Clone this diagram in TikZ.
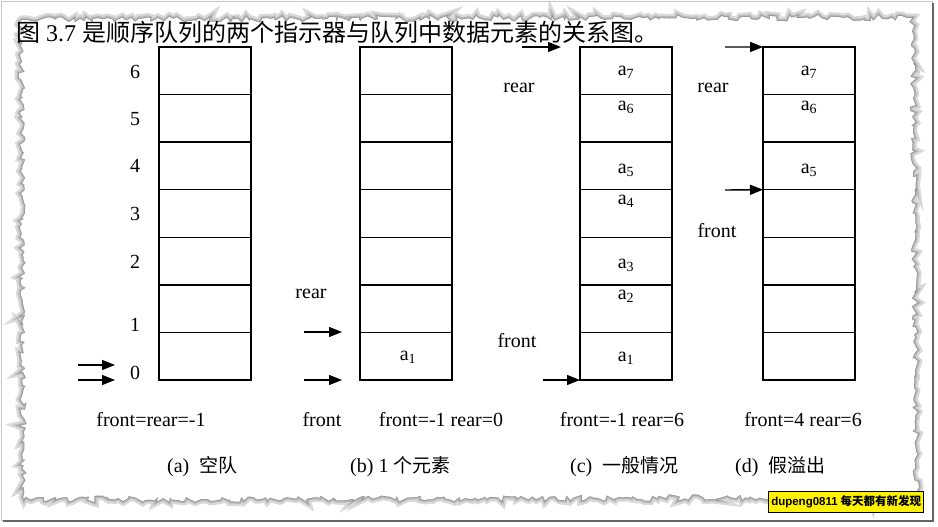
\documentclass[tikz,border=0pt]{standalone}
\usepackage{fontspec}
\setmainfont{Liberation Serif}
\newfontfamily\cjk{Noto Sans CJK SC}
\newfontfamily\wmlat{Liberation Sans}
\usetikzlibrary{arrows.meta,decorations.pathmorphing}
\begin{document}
\begin{tikzpicture}[x=1pt,y=-1pt,
  cell/.style={draw,line width=1.5pt,minimum width=92pt,minimum height=47.6pt,inner sep=0pt,outer sep=0pt},
  ptr/.style={line width=1.4pt,-{Triangle[length=13pt,width=10pt]}},
  lbl/.style={font=\fontsize{20}{22}\selectfont,inner sep=0pt},
  captxt/.style={font=\fontsize{20}{22}\selectfont,inner sep=0pt,anchor=west},
  torn/.style={decorate,decoration={random steps,segment length=3.5pt,amplitude=3.2pt}}]
\useasboundingbox (0,0) rectangle (938,527);
\fill[white] (0,0) rectangle (938,527);
% outer frame
\draw[gray!45,line width=1pt] (1.5,1.5) rectangle (932,520);
\draw[gray!80!black,line width=1.8pt] (933,3) -- (933,521) -- (3,521);
% torn paper
\pgfmathsetseed{11}
\draw[gray!30,line width=9pt,torn] (22,20) -- (912,18) -- (916,497) -- (24,499) -- cycle;
\pgfmathsetseed{11}
\draw[gray!55,line width=4.5pt,torn] (22,20) -- (912,18) -- (916,497) -- (24,499) -- cycle;
\pgfmathsetseed{11}
\draw[gray!85,line width=1.6pt,torn] (22,20) -- (912,18) -- (916,497) -- (24,499) -- cycle;
\pgfmathsetseed{11}
\fill[white,torn] (22,20) -- (912,18) -- (916,497) -- (24,499) -- cycle;
% title
\node[anchor=west,inner sep=0pt,font=\fontsize{24}{26}\selectfont] (title) at (16,32)
  {{\cjk 图} 3.7 {\cjk 是顺序队列的两个指示器与队列中数据元素的关系图。}};
% cells
\foreach \col/\L in {a/159,b/360,c/580,d/763}
  \foreach \i in {0,...,6}
    \node[cell] (\col\i) at ({\L+46},{356.2-47.57*\i}) {};
% index labels
\foreach \n/\y in {6/72,5/119,4/166,3/214,2/262,1/325,0/373}
  \node[lbl] (n\n) at (135,\y) {\n};
% column a arrows
\coordinate (as1) at (78,365); \coordinate (ae1) at (115,365);
\coordinate (as2) at (78,380); \coordinate (ae2) at (115,380);
\draw[ptr] (as1) -- (ae1);
\draw[ptr] (as2) -- (ae2);
% column b
\node[lbl] (ba1) at (408,357) {a\textsubscript{1}};
\node[lbl] (brear) at (311,294) {rear};
\coordinate (bs1) at (304,332); \coordinate (be1) at (342,332);
\coordinate (bs2) at (304,380); \coordinate (be2) at (342,380);
\draw[ptr] (bs1) -- (be1);
\draw[ptr] (bs2) -- (be2);
% column c
\node[lbl] (ca7) at (626,72) {a\textsubscript{7}};
\node[lbl] (ca6) at (626,107) {a\textsubscript{6}};
\node[lbl] (ca5) at (626,170) {a\textsubscript{5}};
\node[lbl] (ca4) at (626,201) {a\textsubscript{4}};
\node[lbl] (ca3) at (626,265) {a\textsubscript{3}};
\node[lbl] (ca2) at (626,296) {a\textsubscript{2}};
\node[lbl] (ca1) at (626,358) {a\textsubscript{1}};
\node[lbl] (crear) at (519,88) {rear};
\node[lbl] (cfront) at (517,341) {front};
\coordinate (cs1) at (522,47); \coordinate (ce1) at (561,47);
\coordinate (cs2) at (543,380);
\draw[ptr] (cs1) -- (ce1);
\draw[ptr] (cs2) -- (c0.south west);
% column d
\node[lbl] (da7) at (809,72) {a\textsubscript{7}};
\node[lbl] (da6) at (809,107) {a\textsubscript{6}};
\node[lbl] (da5) at (809,170) {a\textsubscript{5}};
\node[lbl] (drear) at (713,88) {rear};
\node[lbl] (dfront) at (717,231) {front};
\coordinate (ds1) at (725,47); \coordinate (ds2) at (725,190);
\draw[ptr] (ds1) -- (d6.north west);
\draw[ptr] (ds2) -- (d3.north west);
% bottom labels
\node[lbl] (la) at (151,420) {front=rear=-1};
\node[lbl] (bfront) at (322,420) {front};
\node[lbl] (lb) at (441,420) {front=-1 rear=0};
\node[lbl] (lc) at (622,420) {front=-1 rear=6};
\node[lbl] (ld) at (803,420) {front=4 rear=6};
% captions
\node[captxt] (capa) at (167,467) {(a)\ \ {\cjk\fontsize{19}{21}\selectfont 空队}};
\node[captxt] (capb) at (350,467) {(b) 1 {\cjk\fontsize{19}{21}\selectfont 个元素}};
\node[captxt] (capc) at (570,467) {(c)\ \ {\cjk\fontsize{19}{21}\selectfont 一般情况}};
\node[captxt] (capd) at (735,467) {(d)\ \ {\cjk\fontsize{19}{21}\selectfont 假溢出}};
% watermark
\node[draw=black,line width=0.8pt,fill=yellow,inner xsep=2.5pt,inner ysep=4.5pt,anchor=east,
  font=\fontsize{11.5}{13}\selectfont\bfseries] (wm) at (924,502)
  {{\wmlat dupeng0811} {\cjk 每天都有新发现}};
\end{tikzpicture}
\end{document}
